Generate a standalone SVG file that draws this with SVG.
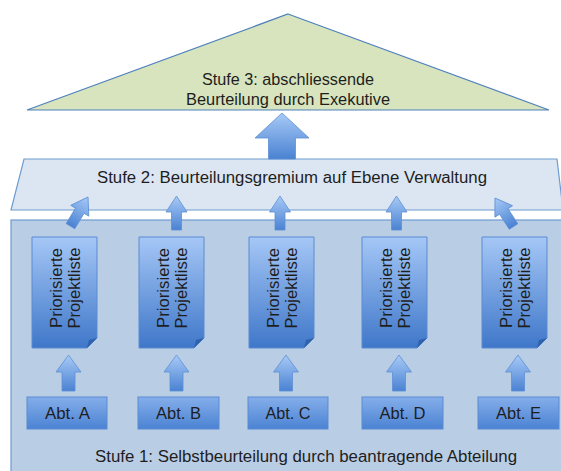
<svg xmlns="http://www.w3.org/2000/svg" width="561" height="471" viewBox="0 0 561 471">
<defs>
<linearGradient id="gDoc" x1="0" y1="0" x2="0" y2="1">
<stop offset="0" stop-color="#a5c7f6"/>
<stop offset="1" stop-color="#3f77c9"/>
</linearGradient>
<linearGradient id="gArr" x1="0" y1="0" x2="0" y2="1">
<stop offset="0" stop-color="#a8caf7"/>
<stop offset="1" stop-color="#4a82d2"/>
</linearGradient>
<linearGradient id="gAbt" x1="0" y1="0" x2="0" y2="1">
<stop offset="0" stop-color="#85aeea"/>
<stop offset="1" stop-color="#4b83d3"/>
</linearGradient>
<path id="arrBig" d="M0,0 L27,25 L13.5,25 L13.5,46 L-13.5,46 L-13.5,25 L-27,25 Z"/>
<path id="arrUp" d="M0,0 L10.5,16 L5,16 L5,34 L-5,34 L-5,16 L-10.5,16 Z"/>
<path id="arrLow" d="M0,0 L12.5,17 L6.5,17 L6.5,36 L-6.5,36 L-6.5,17 L-12.5,17 Z"/>
<g id="doc">
<path d="M0,0 H65 V101 L55,111 H0 Z" fill="url(#gDoc)" stroke="#5a8bd2" stroke-width="1"/>
<path d="M65,101 L55,111 L57,103 Z" fill="#2f62ad"/>
<text class="dt" transform="translate(29.5,51) rotate(-90)" textLength="80" lengthAdjust="spacingAndGlyphs">Priorisierte</text>
<text class="dt" transform="translate(47.5,51) rotate(-90)" textLength="81" lengthAdjust="spacingAndGlyphs">Projektliste</text>
</g>
</defs>
<style>
text{font-family:"Liberation Sans",Arial,sans-serif;fill:#1e1e1e;text-anchor:middle}
.t{font-size:16px}
.dt{font-size:16px}
.abt rect{fill:url(#gAbt);stroke:#5a8bd2;stroke-width:1}
.abt text{font-size:16px}
.arr{fill:url(#gArr);stroke:#5e8fd4;stroke-width:0.8}
</style>

<g id="stufe1">
<rect x="11" y="220" width="560" height="260" fill="#b9cde5" stroke="#6f9bd1" stroke-width="1.2"/>
<text class="t" x="306" y="462" textLength="422" lengthAdjust="spacingAndGlyphs">Stufe 1: Selbstbeurteilung durch beantragende Abteilung</text>
</g>

<g id="stufe2">
<path d="M24,159 L557,159 L563,210 L11,210 Z" fill="#dce6f2" stroke="#6f9bd1" stroke-width="1.2"/>
<text class="t" x="292" y="183" textLength="390" lengthAdjust="spacingAndGlyphs">Stufe 2: Beurteilungsgremium auf Ebene Verwaltung</text>
</g>

<g id="stufe3">
<path d="M288,14 L549,110 L27,110 Z" fill="#d7e4bd" stroke="#4f81bd" stroke-width="1.2"/>
<text class="t" x="288" y="85" textLength="172" lengthAdjust="spacingAndGlyphs">Stufe 3: abschliessende</text>
<text class="t" x="288" y="105" textLength="204" lengthAdjust="spacingAndGlyphs">Beurteilung durch Exekutive</text>
</g>

<g id="docA"><use href="#doc" x="32" y="237"/></g>
<g id="docB"><use href="#doc" x="139" y="237"/></g>
<g id="docC"><use href="#doc" x="249" y="237"/></g>
<g id="docD"><use href="#doc" x="362" y="237"/></g>
<g id="docE"><use href="#doc" x="482" y="237"/></g>

<g id="abtA" class="abt"><rect x="27" y="397" width="80" height="32"/><text x="67.5" y="419" textLength="45" lengthAdjust="spacingAndGlyphs">Abt. A</text></g>
<g id="abtB" class="abt"><rect x="138" y="397" width="81" height="32"/><text x="178.5" y="419" textLength="45" lengthAdjust="spacingAndGlyphs">Abt. B</text></g>
<g id="abtC" class="abt"><rect x="248" y="397" width="80" height="32"/><text x="288" y="419" textLength="45" lengthAdjust="spacingAndGlyphs">Abt. C</text></g>
<g id="abtD" class="abt"><rect x="362" y="397" width="81" height="32"/><text x="402.5" y="419" textLength="46" lengthAdjust="spacingAndGlyphs">Abt. D</text></g>
<g id="abtE" class="abt"><rect x="478" y="397" width="81" height="32"/><text x="518.5" y="419" textLength="45" lengthAdjust="spacingAndGlyphs">Abt. E</text></g>

<g id="connectors">
<use href="#arrBig" class="arr" transform="translate(282,113)"/>
<use href="#arrUp" class="arr" transform="translate(88,197) rotate(31)"/>
<use href="#arrUp" class="arr" transform="translate(176.5,196)"/>
<use href="#arrUp" class="arr" transform="translate(280,196)"/>
<use href="#arrUp" class="arr" transform="translate(396.5,196)"/>
<use href="#arrUp" class="arr" transform="translate(495,198) rotate(-33)"/>
<use href="#arrLow" class="arr" transform="translate(68.5,355)"/>
<use href="#arrLow" class="arr" transform="translate(176.5,355)"/>
<use href="#arrLow" class="arr" transform="translate(286,355)"/>
<use href="#arrLow" class="arr" transform="translate(399,355)"/>
<use href="#arrLow" class="arr" transform="translate(518,355)"/>
</g>
</svg>
